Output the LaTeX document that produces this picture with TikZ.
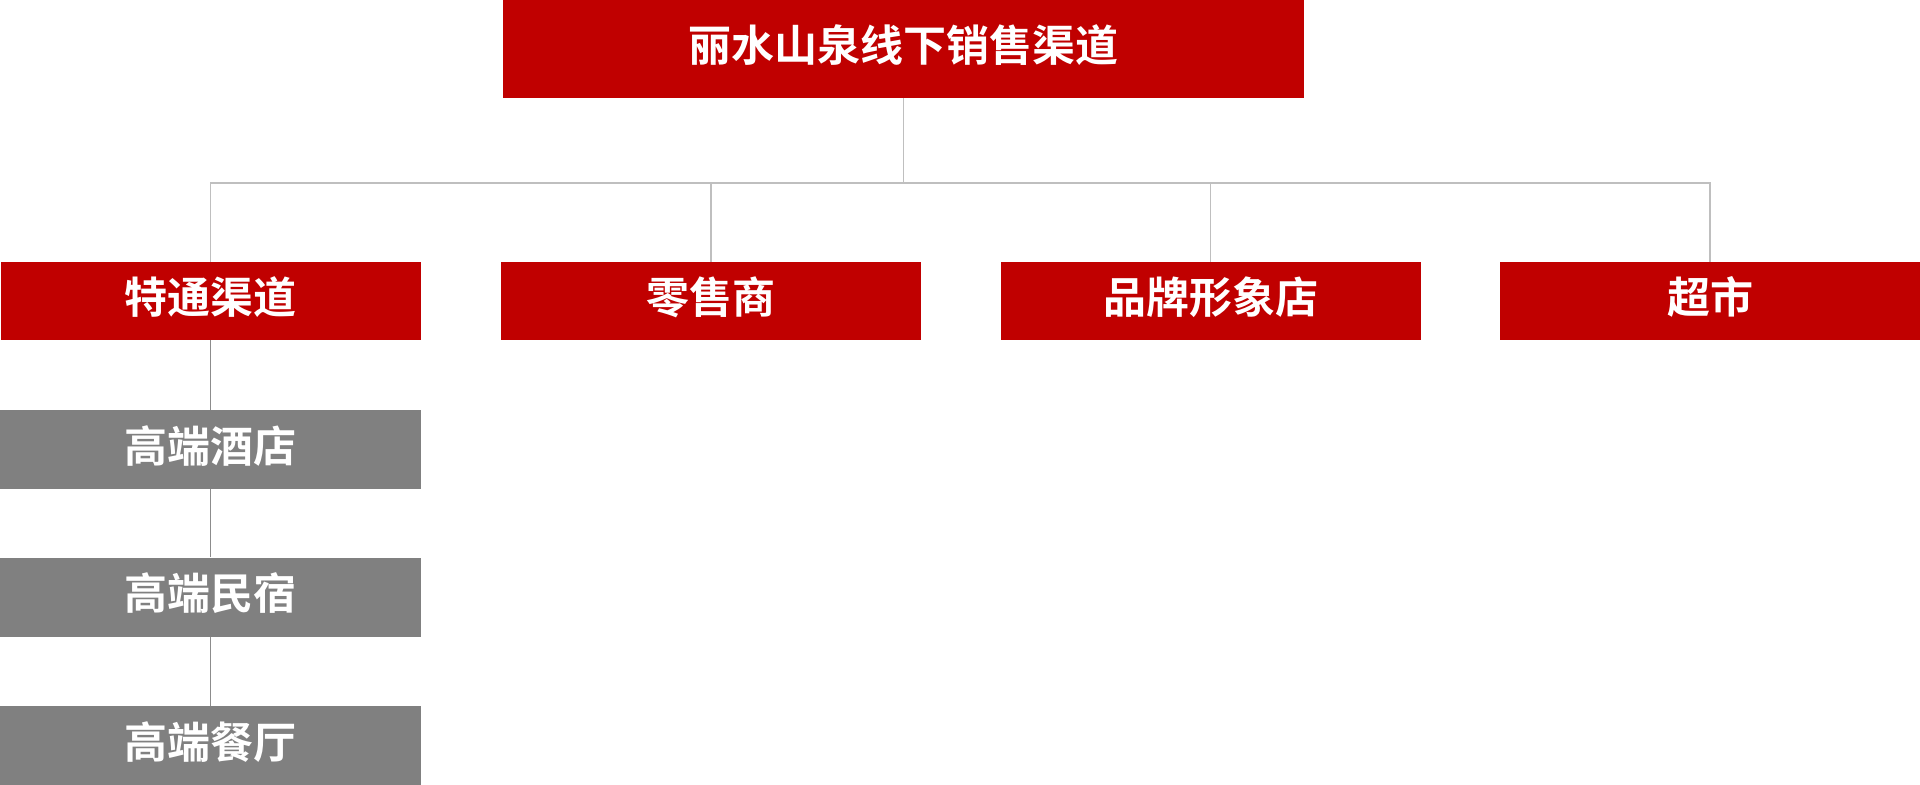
\documentclass[tikz,border=0pt]{standalone}
\usepackage{fontspec}
\newfontfamily\cjk{Noto Sans CJK SC}[BoldFont={Noto Sans CJK SC Bold}]
\definecolor{boxred}{HTML}{C00000}
\definecolor{boxgrey}{HTML}{808080}
\definecolor{linelight}{HTML}{BFBFBF}
\definecolor{linedark}{HTML}{8C8C8C}
\begin{document}
\begin{tikzpicture}[x=0.5pt,y=-0.5pt,
  boxfont/.style={font=\cjk\bfseries\fontsize{21.5pt}{24pt}\selectfont,
    text height=18.9pt,text depth=6.3pt},
  redbox/.style={fill=boxred,draw=none,inner sep=0pt,text=white,boxfont},
  greybox/.style={fill=boxgrey,draw=none,inner sep=0pt,text=white,
    minimum width=210.5pt,minimum height=39.5pt,boxfont},
  lvltwo/.style={redbox,minimum width=210pt,minimum height=39pt},
  lightline/.style={draw=linelight,line width=0.6pt},
  darkline/.style={draw=linedark,line width=0.6pt}]
\useasboundingbox (0,0) rectangle (1920,785);
\node[redbox,minimum width=400.5pt,minimum height=49pt] (top) at (903.5,49) {丽水山泉线下销售渠道};
\node[lvltwo] (c1) at (210.5,301) {特通渠道};
\node[lvltwo] (c2) at (711,301) {零售商};
\node[lvltwo] (c3) at (1210.5,301) {品牌形象店};
\node[lvltwo] (c4) at (1710,301) {超市};
\node[greybox] (g1) at (210.5,449.5) {高端酒店};
\node[greybox] (g2) at (210.5,597) {高端民宿};
\node[greybox] (g3) at (210.5,745.5) {高端餐厅};
\coordinate (bus) at (903.5,183);
\draw[lightline] (top.south) -- (bus);
\draw[lightline] (bus) -| (c1.north);
\draw[lightline] (bus) -| (c2.north);
\draw[lightline] (bus) -| (c3.north);
\draw[lightline] (bus) -| (c4.north);
\draw[darkline] (c1.south) -- (g1.north);
\draw[darkline] (g1.south) -- (g2.north);
\draw[darkline] (g2.south) -- (g3.north);
\end{tikzpicture}
\end{document}
